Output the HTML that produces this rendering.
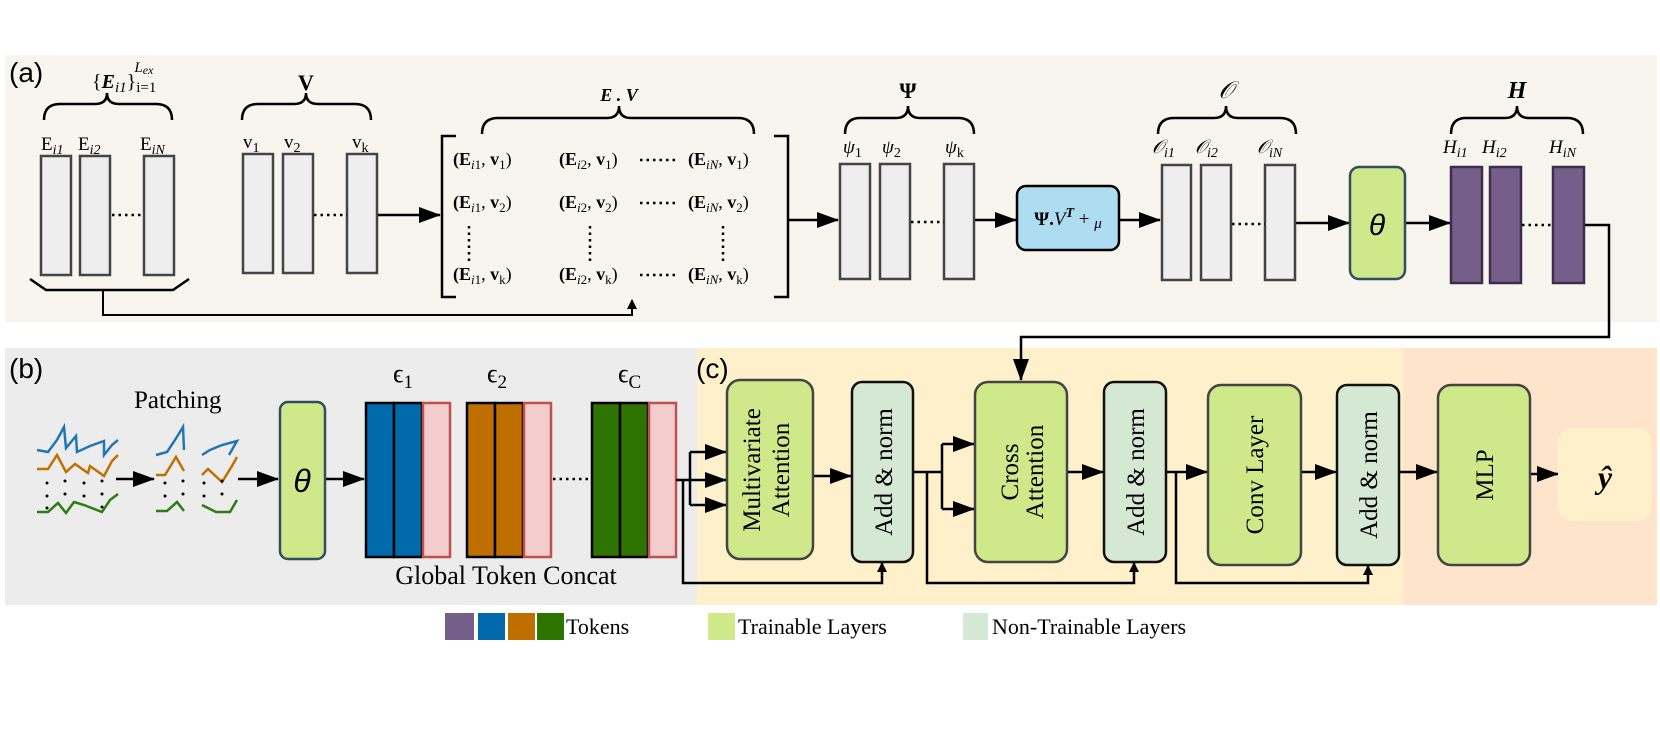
<!DOCTYPE html>
<html><head><meta charset="utf-8"><style>
html,body{margin:0;padding:0;background:#fff;}
svg{display:block;}
text{font-family:"Liberation Serif",serif;fill:#000;}
.sans{font-family:"Liberation Sans",sans-serif;}
</style></head><body>
<svg width="1660" height="730" viewBox="0 0 1660 730" xmlns="http://www.w3.org/2000/svg">
<defs>
<marker id="ah" markerWidth="10" markerHeight="10" refX="9" refY="5" orient="auto" markerUnits="userSpaceOnUse"><path d="M0,0 L10,5 L0,10 z" fill="#000"/></marker>
<marker id="ab" markerWidth="22" markerHeight="16" refX="21" refY="8" orient="auto" markerUnits="userSpaceOnUse"><path d="M0,0 L22,8 L0,16 z" fill="#000"/></marker>
</defs>
<rect x="5" y="55" width="1652" height="267" fill="#f8f5ee"/>
<rect x="5" y="348" width="692" height="257" fill="#ececec"/>
<rect x="697" y="348" width="706" height="257" fill="#fff0cc"/>
<rect x="1403" y="348" width="254" height="257" fill="#ffe4cc"/>
<text x="9" y="82" class="sans" font-size="28">(a)</text>
<text x="9" y="378" class="sans" font-size="28">(b)</text>
<text x="696" y="378" class="sans" font-size="28">(c)</text>

<g fill="none" stroke="#000" stroke-width="2.5">
<path d="M44,120 Q44,104 60,104 L95,104 Q107,104 107,93 Q107,104 119,104 L156,104 Q172,104 172,120"/>
<path d="M242,120 Q242,104 258,104 L294,104 Q306,104 306,93 Q306,104 318,104 L355,104 Q371,104 371,120"/>
<path d="M482,134 Q482,118 498,118 L607,118 Q619,118 619,106 Q619,118 631,118 L738,118 Q754,118 754,134"/>
<path d="M845,134 Q845,118 860,118 L896,118 Q908,118 908,106 Q908,118 920,118 L958,118 Q974,118 974,134"/>
<path d="M1158,134 Q1158,118 1174,118 L1214,118 Q1226,118 1226,106 Q1226,118 1238,118 L1280,118 Q1296,118 1296,134"/>
<path d="M1451,134 Q1451,118 1466,118 L1505,118 Q1517,118 1517,106 Q1517,118 1529,118 L1567,118 Q1583,118 1583,134"/>
<path d="M30,279 L46,290 L173,290 L189,279"/>
<path d="M456,136 L442,136 L442,297 L456,297"/>
<path d="M774,136 L788,136 L788,297 L774,297"/>
</g>
<g fill="none" stroke="#000" stroke-width="2">
<path d="M103,290 L103,315 L632,315 L632,300" marker-end="url(#ah)"/>
</g>
<g stroke="#000" stroke-width="2.5">
<line x1="378" y1="215" x2="440" y2="215" marker-end="url(#ab)"/>
<line x1="788" y1="220" x2="838" y2="220" marker-end="url(#ab)"/>
<line x1="974" y1="220" x2="1016" y2="220" marker-end="url(#ab)"/>
<line x1="1119" y1="220" x2="1160" y2="220" marker-end="url(#ab)"/>
<line x1="1295" y1="223" x2="1349" y2="223" marker-end="url(#ab)"/>
<line x1="1405" y1="223" x2="1450" y2="223" marker-end="url(#ab)"/>
</g>
<path d="M1583,225 L1609,225 L1609,337 L1021,337 L1021,380" fill="none" stroke="#000" stroke-width="2.5" marker-end="url(#ab)"/>

<text x="92" y="88" font-size="20">{<tspan font-weight="bold" font-style="italic">E</tspan><tspan font-style="italic" font-size="15" dy="4">i1</tspan><tspan dy="-4">}</tspan><tspan font-size="15" dy="4">i=1</tspan><tspan font-size="15" font-style="italic" dx="-22" dy="-20">L</tspan><tspan font-size="12" font-style="italic" dy="2">ex</tspan></text>
<text x="306" y="90" font-size="22" font-weight="bold" text-anchor="middle">V</text>
<text x="619" y="101" font-size="18" font-weight="bold" font-style="italic" text-anchor="middle">E . V</text>
<text x="908" y="98" font-size="22" font-weight="bold" text-anchor="middle">Ψ</text>
<text x="1226" y="98" font-size="24" font-style="italic" text-anchor="middle">𝒪</text>
<text x="1517" y="98" font-size="24" font-weight="bold" font-style="italic" text-anchor="middle">H</text>

<g font-size="19">
<text x="41" y="150">E<tspan font-size="14" font-style="italic" dy="4">i1</tspan></text>
<text x="78" y="150">E<tspan font-size="14" font-style="italic" dy="4">i2</tspan></text>
<text x="140" y="150">E<tspan font-size="14" font-style="italic" dy="4">iN</tspan></text>
<text x="243" y="148">v<tspan font-size="14" dy="4">1</tspan></text>
<text x="284" y="148">v<tspan font-size="14" dy="4">2</tspan></text>
<text x="352" y="148">v<tspan font-size="14" dy="4">k</tspan></text>
<text x="843" y="153" font-style="italic">ψ<tspan font-size="14" font-style="normal" dy="4">1</tspan></text>
<text x="882" y="153" font-style="italic">ψ<tspan font-size="14" font-style="normal" dy="4">2</tspan></text>
<text x="945" y="153" font-style="italic">ψ<tspan font-size="14" font-style="normal" dy="4">k</tspan></text>
<text x="1152" y="153" font-style="italic">𝒪<tspan font-size="14" dy="4">i1</tspan></text>
<text x="1195" y="153" font-style="italic">𝒪<tspan font-size="14" dy="4">i2</tspan></text>
<text x="1257" y="153" font-style="italic">𝒪<tspan font-size="14" dy="4">iN</tspan></text>
<text x="1443" y="153" font-style="italic">H<tspan font-size="14" dy="4">i1</tspan></text>
<text x="1482" y="153" font-style="italic">H<tspan font-size="14" dy="4">i2</tspan></text>
<text x="1549" y="153" font-style="italic">H<tspan font-size="14" dy="4">iN</tspan></text>
</g>

<g fill="#eeeeee" stroke="#444" stroke-width="2.5">
<rect x="41" y="156" width="30" height="119"/><rect x="80" y="156" width="30" height="119"/><rect x="144" y="156" width="30" height="119"/>
<rect x="243" y="154" width="30" height="119"/><rect x="283" y="154" width="30" height="119"/><rect x="347" y="154" width="30" height="119"/>
<rect x="840" y="164" width="30" height="115"/><rect x="880" y="164" width="30" height="115"/><rect x="944" y="164" width="30" height="115"/>
<rect x="1162" y="165" width="29" height="115"/><rect x="1201" y="165" width="30" height="115"/><rect x="1265" y="165" width="30" height="115"/>
</g>
<g fill="#765e8a" stroke="#3d2c4d" stroke-width="2.5">
<rect x="1451" y="167" width="31" height="116"/><rect x="1490" y="167" width="31" height="116"/><rect x="1553" y="167" width="31" height="116"/>
</g>
<g stroke="#000" stroke-width="2.5" stroke-dasharray="2.5,4">
<line x1="112" y1="215" x2="144" y2="215"/><line x1="314" y1="215" x2="347" y2="215"/>
<line x1="911" y1="222" x2="944" y2="222"/><line x1="1232" y1="224" x2="1265" y2="224"/><line x1="1522" y1="225" x2="1553" y2="225"/>
<line x1="469" y1="226" x2="469" y2="262"/><line x1="590" y1="226" x2="590" y2="262"/><line x1="723" y1="226" x2="723" y2="262"/>
<line x1="640" y1="160" x2="678" y2="160"/><line x1="640" y1="203" x2="678" y2="203"/><line x1="640" y1="275" x2="678" y2="275"/>
</g>
<g font-size="18">
<text x="453" y="165"><tspan font-weight="bold">(E</tspan><tspan font-size="13" font-style="italic" dy="4">i</tspan><tspan font-size="13">1</tspan><tspan dy="-4">, </tspan><tspan font-weight="bold">v</tspan><tspan font-size="13" dy="4">1</tspan><tspan dy="-4">)</tspan></text>
<text x="559" y="165"><tspan font-weight="bold">(E</tspan><tspan font-size="13" font-style="italic" dy="4">i</tspan><tspan font-size="13">2</tspan><tspan dy="-4">, </tspan><tspan font-weight="bold">v</tspan><tspan font-size="13" dy="4">1</tspan><tspan dy="-4">)</tspan></text>
<text x="688" y="165"><tspan font-weight="bold">(E</tspan><tspan font-size="13" font-style="italic" dy="4">iN</tspan><tspan dy="-4">, </tspan><tspan font-weight="bold">v</tspan><tspan font-size="13" dy="4">1</tspan><tspan dy="-4">)</tspan></text>
<text x="453" y="208"><tspan font-weight="bold">(E</tspan><tspan font-size="13" font-style="italic" dy="4">i</tspan><tspan font-size="13">1</tspan><tspan dy="-4">, </tspan><tspan font-weight="bold">v</tspan><tspan font-size="13" dy="4">2</tspan><tspan dy="-4">)</tspan></text>
<text x="559" y="208"><tspan font-weight="bold">(E</tspan><tspan font-size="13" font-style="italic" dy="4">i</tspan><tspan font-size="13">2</tspan><tspan dy="-4">, </tspan><tspan font-weight="bold">v</tspan><tspan font-size="13" dy="4">2</tspan><tspan dy="-4">)</tspan></text>
<text x="688" y="208"><tspan font-weight="bold">(E</tspan><tspan font-size="13" font-style="italic" dy="4">iN</tspan><tspan dy="-4">, </tspan><tspan font-weight="bold">v</tspan><tspan font-size="13" dy="4">2</tspan><tspan dy="-4">)</tspan></text>
<text x="453" y="280"><tspan font-weight="bold">(E</tspan><tspan font-size="13" font-style="italic" dy="4">i</tspan><tspan font-size="13">1</tspan><tspan dy="-4">, </tspan><tspan font-weight="bold">v</tspan><tspan font-size="13" dy="4">k</tspan><tspan dy="-4">)</tspan></text>
<text x="559" y="280"><tspan font-weight="bold">(E</tspan><tspan font-size="13" font-style="italic" dy="4">i</tspan><tspan font-size="13">2</tspan><tspan dy="-4">, </tspan><tspan font-weight="bold">v</tspan><tspan font-size="13" dy="4">k</tspan><tspan dy="-4">)</tspan></text>
<text x="688" y="280"><tspan font-weight="bold">(E</tspan><tspan font-size="13" font-style="italic" dy="4">iN</tspan><tspan dy="-4">, </tspan><tspan font-weight="bold">v</tspan><tspan font-size="13" dy="4">k</tspan><tspan dy="-4">)</tspan></text>
</g>
<rect x="1017" y="186" width="102" height="64" rx="9" fill="#aedcf0" stroke="#000" stroke-width="2.5"/>
<text x="1068" y="225" font-size="19" text-anchor="middle"><tspan font-weight="bold">Ψ.</tspan><tspan font-style="italic">V</tspan><tspan font-size="14" font-weight="bold" font-style="italic" dy="-8">T</tspan><tspan dy="8"> + </tspan><tspan font-style="italic" font-size="15" dy="3">μ</tspan></text>
<rect x="1350" y="167" width="55" height="112" rx="9" fill="#cfe98a" stroke="#2f4f5f" stroke-width="2.5"/>
<text x="1377" y="235" font-size="30" font-style="italic" text-anchor="middle" class="sans">θ</text>

<g fill="none" stroke-width="2.5">
<polyline stroke="#1f77b4" points="37,450 48,452 57,440 64,427 66,448 76,436 77,452 90,446 104,441 104,455 112,445 118,440"/>
<polyline stroke="#c07000" points="37,469 48,469 57,455 66,472 75,464 88,473 90,466 104,476 112,461 118,455"/>
<polyline stroke="#2e7d10" points="37,512 48,512 58,503 66,513 74,502 84,505 102,512 110,500 118,494"/>
<polyline stroke="#1f77b4" points="156,455 167,452 175,440 183,427 184,450"/>
<polyline stroke="#1f77b4" points="202,455 210,450 222,445 237,441 229,455"/>
<polyline stroke="#c07000" points="156,475 165,475 176,457 184,471"/>
<polyline stroke="#c07000" points="202,475 208,469 222,482 232,466 237,457"/>
<polyline stroke="#2e7d10" points="156,511 167,511 177,502 184,511"/>
<polyline stroke="#2e7d10" points="202,505 216,512 230,512 237,500"/>
</g>
<g fill="#000">
<circle cx="47" cy="483" r="1.5"/><circle cx="65" cy="481" r="1.5"/><circle cx="84" cy="483" r="1.5"/><circle cx="102" cy="481" r="1.5"/>
<circle cx="47" cy="496" r="1.5"/><circle cx="65" cy="494" r="1.5"/><circle cx="84" cy="496" r="1.5"/><circle cx="102" cy="494" r="1.5"/>
<circle cx="47" cy="508" r="1.5"/><circle cx="102" cy="507" r="1.5"/>
<circle cx="165" cy="483" r="1.5"/><circle cx="183" cy="481" r="1.5"/><circle cx="204" cy="483" r="1.5"/><circle cx="222" cy="481" r="1.5"/>
<circle cx="165" cy="496" r="1.5"/><circle cx="183" cy="494" r="1.5"/><circle cx="204" cy="496" r="1.5"/><circle cx="222" cy="494" r="1.5"/>
</g>
<text x="134" y="408" font-size="25">Patching</text>
<g stroke="#000" stroke-width="2.5">
<line x1="116" y1="479" x2="154" y2="479" marker-end="url(#ab)"/>
<line x1="238" y1="479" x2="278" y2="479" marker-end="url(#ab)"/>
<line x1="325" y1="479" x2="364" y2="479" marker-end="url(#ab)"/>
</g>
<rect x="280" y="402" width="45" height="157" rx="8" fill="#cfe98a" stroke="#2f4f5f" stroke-width="2.5"/>
<text x="302" y="492" font-size="32" font-style="italic" text-anchor="middle" class="sans">θ</text>

<g stroke-width="2.5">
<rect x="366" y="403" width="28" height="154" fill="#006aad" stroke="#000"/><rect x="394" y="403" width="28" height="154" fill="#006aad" stroke="#000"/>
<rect x="423" y="403" width="27" height="154" fill="#f5cccc" stroke="#c05050"/>
<rect x="467" y="403" width="28" height="154" fill="#bf6e00" stroke="#000"/><rect x="495" y="403" width="28" height="154" fill="#bf6e00" stroke="#000"/>
<rect x="524" y="403" width="27" height="154" fill="#f5cccc" stroke="#c05050"/>
<rect x="592" y="403" width="28" height="154" fill="#2d7400" stroke="#000"/><rect x="620" y="403" width="28" height="154" fill="#2d7400" stroke="#000"/>
<rect x="649" y="403" width="27" height="154" fill="#f5cccc" stroke="#c05050"/>
</g>
<line x1="553" y1="479" x2="588" y2="479" stroke="#000" stroke-width="2.5" stroke-dasharray="2.5,4"/>
<text x="393" y="382" font-size="26">ϵ<tspan font-size="19" dy="6">1</tspan></text>
<text x="487" y="382" font-size="26">ϵ<tspan font-size="19" dy="6">2</tspan></text>
<text x="618" y="382" font-size="26">ϵ<tspan font-size="19" dy="6">C</tspan></text>
<text x="506" y="584" font-size="26" text-anchor="middle">Global Token Concat</text>

<g fill="none" stroke="#000" stroke-width="2.5">
<path d="M676,480 L726,480" marker-end="url(#ab)"/>
<path d="M690,452 L690,505"/>
<path d="M690,452 L726,452" marker-end="url(#ab)"/>
<path d="M690,505 L726,505" marker-end="url(#ab)"/>
<path d="M683,480 L683,583 L882,583 L882,563" marker-end="url(#ah)"/>
<path d="M813,476 L851,476" marker-end="url(#ab)"/>
<path d="M913,472 L942,472"/>
<path d="M942,444 L942,509"/>
<path d="M942,444 L974,444" marker-end="url(#ab)"/>
<path d="M942,509 L974,509" marker-end="url(#ab)"/>
<path d="M927,472 L927,583 L1134,583 L1134,563" marker-end="url(#ah)"/>
<path d="M1067,472 L1103,472" marker-end="url(#ab)"/>
<path d="M1166,472 L1207,472" marker-end="url(#ab)"/>
<path d="M1176,472 L1176,583 L1368,583 L1368,566" marker-end="url(#ah)"/>
<path d="M1301,472 L1336,472" marker-end="url(#ab)"/>
<path d="M1399,472 L1437,472" marker-end="url(#ab)"/>
<path d="M1530,474 L1558,474" marker-end="url(#ab)"/>
</g>
<g stroke-width="2.5">
<rect x="727" y="380" width="86" height="179" rx="13" fill="#cfe98a" stroke="#444"/>
<rect x="852" y="382" width="61" height="180" rx="10" fill="#d5e8d4" stroke="#111"/>
<rect x="975" y="382" width="92" height="180" rx="13" fill="#cfe98a" stroke="#444"/>
<rect x="1104" y="382" width="62" height="180" rx="10" fill="#d5e8d4" stroke="#111"/>
<rect x="1208" y="385" width="93" height="180" rx="13" fill="#cfe98a" stroke="#444"/>
<rect x="1337" y="385" width="62" height="180" rx="10" fill="#d5e8d4" stroke="#111"/>
<rect x="1438" y="385" width="92" height="180" rx="13" fill="#cfe98a" stroke="#444"/>
</g>
<rect x="1558" y="428" width="94" height="93" rx="15" fill="#fff0cc"/>
<text x="1605" y="488" font-size="32" font-weight="bold" font-style="italic" text-anchor="middle">ŷ</text>
<g font-size="25" text-anchor="middle">
<text transform="translate(760,470) rotate(-90)">Multivariate</text>
<text transform="translate(789,470) rotate(-90)">Attention</text>
<text transform="translate(892,472) rotate(-90)">Add &amp; norm</text>
<text transform="translate(1018,472) rotate(-90)">Cross</text>
<text transform="translate(1043,472) rotate(-90)">Attention</text>
<text transform="translate(1144,472) rotate(-90)">Add &amp; norm</text>
<text transform="translate(1263,475) rotate(-90)">Conv Layer</text>
<text transform="translate(1377,475) rotate(-90)">Add &amp; norm</text>
<text transform="translate(1493,475) rotate(-90)">MLP</text>
</g>

<rect x="445" y="613" width="29" height="27" fill="#765e8a"/>
<rect x="478" y="613" width="27" height="27" fill="#006aad"/>
<rect x="508" y="613" width="27" height="27" fill="#bf6e00"/>
<rect x="537" y="613" width="27" height="27" fill="#2d7400"/>
<text x="566" y="634" font-size="22">Tokens</text>
<rect x="708" y="613" width="27" height="27" fill="#cfe98a"/>
<text x="738" y="634" font-size="22">Trainable Layers</text>
<rect x="963" y="613" width="25" height="27" fill="#d5e8d4"/>
<text x="992" y="634" font-size="22">Non-Trainable Layers</text>
</svg>
</body></html>
